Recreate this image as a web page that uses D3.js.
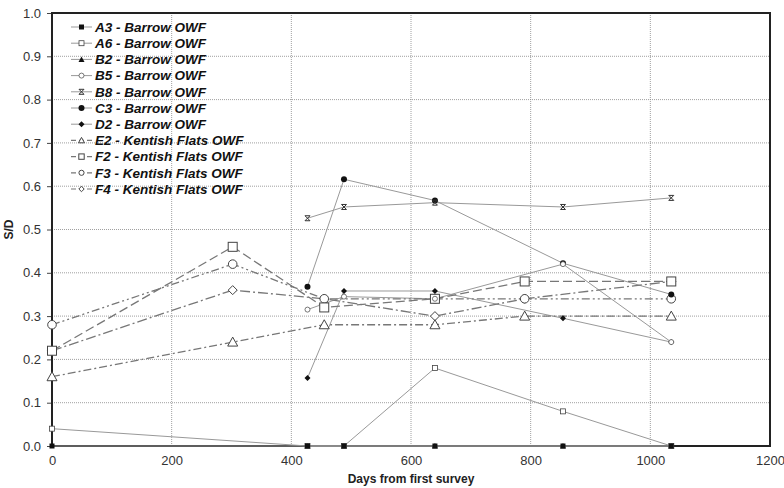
<!DOCTYPE html>
<html lang="en">
<head>
<meta charset="UTF-8">
<title>S/D vs days</title>
<script src="https://cdn.jsdelivr.net/npm/d3@7"></script>
<style>
  body { margin: 0; background: #fff; }
  svg { display: block; font-family: "Liberation Sans", Arial, sans-serif; }
</style>
</head>
<body>
<script>
// days of survey for each wind farm
const barrowDays = [0, 427, 488, 640, 854, 1035];
const kentishDays = [0, 302, 455, 640, 790, 1035];

// S/D values (null = no survey)
const a3 = [0, 0, 0, 0, 0, 0];
const a6 = [0.04, 0, 0, 0.18, 0.08, 0];
const b2 = [null, 0, 0, 0, 0, 0];
const b5 = [null, 0.315, 0.345, 0.34, 0.42, 0.24];
const b8 = [null, 0.526, 0.552, 0.562, 0.552, 0.573];
const c3 = [null, 0.368, 0.616, 0.567, 0.422, 0.35];
const d2 = [null, 0.157, 0.358, 0.358, 0.295, 0.24];
const e2 = [0.16, 0.24, 0.28, 0.28, 0.30, 0.30];
const f2 = [0.22, 0.46, 0.32, 0.34, 0.38, 0.38];
const f3 = [0.28, 0.42, 0.34, 0.34, 0.34, 0.34];
const f4 = [0.22, 0.36, 0.34, 0.30, 0.34, 0.38];

const xTicks = [0, 200, 400, 600, 800, 1000, 1200];
const yTicks = [0, 0.1, 0.2, 0.3, 0.4, 0.5, 0.6, 0.7, 0.8, 0.9, 1.0];

// name, days, values, marker, dash
const series = [
  ['A3 - Barrow OWF', barrowDays, a3, 'sqFill', null],
  ['A6 - Barrow OWF', barrowDays, a6, 'sqSmall', null],
  ['B2 - Barrow OWF', barrowDays, b2, 'triFill', null],
  ['B5 - Barrow OWF', barrowDays, b5, 'circSmall', null],
  ['B8 - Barrow OWF', barrowDays, b8, 'star', null],
  ['C3 - Barrow OWF', barrowDays, c3, 'circFill', null],
  ['D2 - Barrow OWF', barrowDays, d2, 'diaFill', null],
  ['E2 - Kentish Flats OWF', kentishDays, e2, 'triOpen', '8,3,2,3'],
  ['F2 - Kentish Flats OWF', kentishDays, f2, 'sqOpen', '9,4'],
  ['F3 - Kentish Flats OWF', kentishDays, f3, 'circOpen', '8,3,2,3,2,3'],
  ['F4 - Kentish Flats OWF', kentishDays, f4, 'diaOpen', '10,3,2,3']
];

const W = 784, H = 488;
const m = {left: 52, right: 14, top: 13, bottom: 42};

const svg = d3.select('body').append('svg')
  .attr('width', W).attr('height', H);

const x = d3.scaleLinear().domain([0, 1200]).range([m.left, W - m.right]);
const y = d3.scaleLinear().domain([0, 1]).range([H - m.bottom, m.top]);

// grid
const grid = svg.append('g');
grid.selectAll('.gx').data(xTicks.slice(1, -1)).enter().append('line')
  .attr('x1', d => x(d)).attr('x2', d => x(d))
  .attr('y1', y(0)).attr('y2', y(1))
  .attr('stroke', '#888').attr('stroke-width', 0.8).attr('stroke-dasharray', '1,1');
grid.selectAll('.gy').data(yTicks.slice(1, -1)).enter().append('line')
  .attr('x1', x(0)).attr('x2', x(1200))
  .attr('y1', d => y(d)).attr('y2', d => y(d))
  .attr('stroke', '#888').attr('stroke-width', 0.8).attr('stroke-dasharray', '1,1');

// axes
const xAxis = d3.axisBottom(x).tickValues(xTicks).tickSize(0).tickPadding(10).tickFormat(d3.format('d'));
const yAxis = d3.axisLeft(y).tickValues(yTicks).tickSize(5).tickPadding(6).tickFormat(d3.format('.1f'));

const gx = svg.append('g').attr('transform', `translate(0,${y(0)})`).call(xAxis);
const gy = svg.append('g').attr('transform', `translate(${x(0)},0)`).call(yAxis);
[gx, gy].forEach(g => {
  g.select('.domain').remove();
  g.selectAll('text').attr('font-size', 13).attr('fill', '#333')
    .style('font-family', '"Liberation Sans", Arial, sans-serif');
  g.selectAll('line').attr('stroke', '#444');
});

// frame
svg.append('rect')
  .attr('x', x(0)).attr('y', y(1))
  .attr('width', x(1200) - x(0)).attr('height', y(0) - y(1))
  .attr('fill', 'none').attr('stroke', '#222').attr('stroke-width', 2);

// titles
svg.append('text').attr('x', (x(0) + x(1200)) / 2).attr('y', H - 5)
  .attr('text-anchor', 'middle').attr('font-size', 12).attr('font-weight', 'bold')
  .attr('fill', '#222').text('Days from first survey');
svg.append('text').attr('transform', `translate(13,${y(0.5)}) rotate(-90)`)
  .attr('text-anchor', 'middle').attr('font-size', 12).attr('font-weight', 'bold')
  .attr('fill', '#222').text('S/D');

// markers, drawn around (0,0) and moved into place
function marker(g, type, cx, cy, k) {
  const dark = '#111';
  const mg = g.append('g').attr('transform', `translate(${cx},${cy}) scale(${k || 1})`);
  switch (type) {
    case 'sqFill': mg.append('rect').attr('x', -2.5).attr('y', -2.5).attr('width', 5).attr('height', 5).attr('fill', dark); break;
    case 'sqSmall': mg.append('rect').attr('x', -2.5).attr('y', -2.5).attr('width', 5).attr('height', 5).attr('fill', '#fff').attr('stroke', '#444').attr('stroke-width', 0.8); break;
    case 'triFill': mg.append('path').attr('d', 'M0,-3L3,2.5L-3,2.5Z').attr('fill', dark); break;
    case 'circSmall': mg.append('circle').attr('r', 2.5).attr('fill', '#fff').attr('stroke', '#555').attr('stroke-width', 0.8); break;
    case 'star': mg.append('path').attr('d', 'M-2.5,-2.5L2.5,2.5M2.5,-2.5L-2.5,2.5M-2.5,-2.5H2.5M-2.5,2.5H2.5').attr('stroke', '#333').attr('stroke-width', 1).attr('fill', 'none'); break;
    case 'circFill': mg.append('circle').attr('r', 3).attr('fill', dark); break;
    case 'diaFill': mg.append('path').attr('d', 'M0,-3L3,0L0,3L-3,0Z').attr('fill', dark); break;
    case 'triOpen': mg.append('path').attr('d', 'M0,-5L5,4L-5,4Z').attr('fill', '#fff').attr('stroke', '#444').attr('stroke-width', 1 / (k || 1)); break;
    case 'sqOpen': mg.append('rect').attr('x', -4.5).attr('y', -4.5).attr('width', 9).attr('height', 9).attr('fill', '#fff').attr('stroke', '#444').attr('stroke-width', 1 / (k || 1)); break;
    case 'circOpen': mg.append('circle').attr('r', 4.3).attr('fill', '#fff').attr('stroke', '#444').attr('stroke-width', 1 / (k || 1)); break;
    case 'diaOpen': mg.append('path').attr('d', 'M0,-4.5L4.5,0L0,4.5L-4.5,0Z').attr('fill', '#fff').attr('stroke', '#444').attr('stroke-width', 1 / (k || 1)); break;
  }
}

const line = d3.line()
  .x(d => x(d[0])).y(d => y(d[1]));

const plot = svg.append('g');
series.forEach(s => {
  const pts = s[1].map((d, i) => [d, s[2][i]]).filter(p => p[1] !== null);
  plot.append('path').attr('d', line(pts))
    .attr('fill', 'none')
    .attr('stroke', s[4] ? '#777' : '#999')
    .attr('stroke-width', s[4] ? 1.3 : 1)
    .attr('stroke-dasharray', s[4]);
});
// markers drawn in reverse so the first series ends up on top
series.slice().reverse().forEach(s => {
  const g = plot.append('g');
  s[1].forEach((d, i) => {
    if (s[2][i] !== null) marker(g, s[3], x(d), y(s[2][i]));
  });
});

// legend
const leg = svg.append('g');
series.forEach((s, i) => {
  const ly = 27 + i * 16.2;
  const g = leg.append('g');
  g.append('line').attr('x1', 71).attr('x2', 92).attr('y1', ly).attr('y2', ly)
    .attr('stroke', s[4] ? '#777' : '#999').attr('stroke-width', s[4] ? 1.2 : 1)
    .attr('stroke-dasharray', s[4] ? '5,3' : null);
  marker(g, s[3], 81.5, ly, s[4] ? 0.6 : 1);
  g.append('text').attr('x', 95).attr('y', ly + 4.8)
    .attr('font-size', 13.5).attr('font-weight', 'bold').attr('font-style', 'italic')
    .attr('fill', '#111').text(s[0]);
});
</script>
</body>
</html>
